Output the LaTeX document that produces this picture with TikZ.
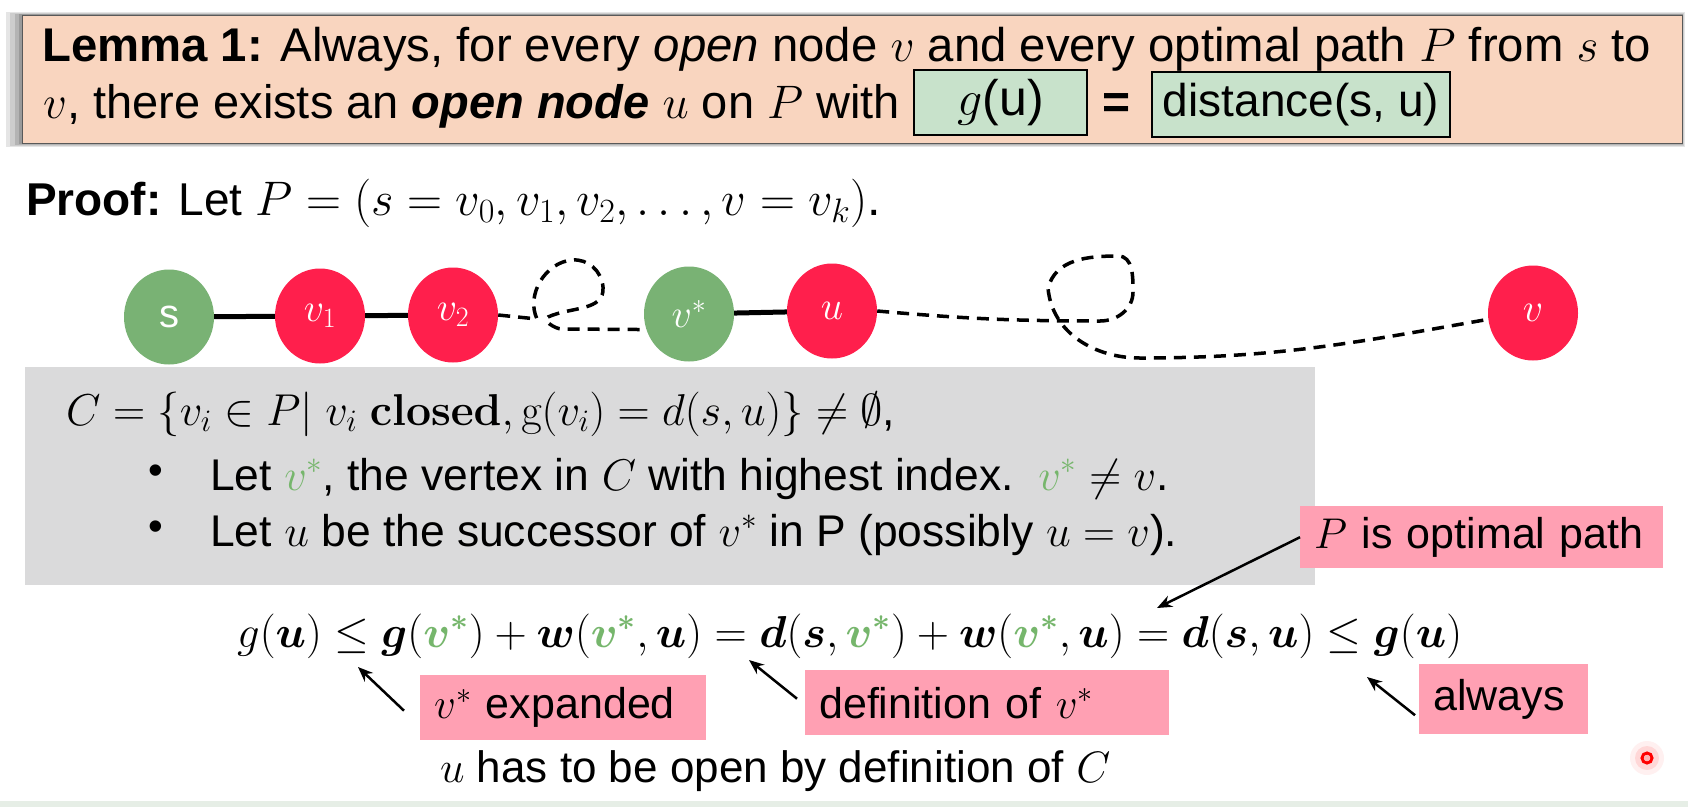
\RequirePackage{fix-cm}
\documentclass[tikz,border=0pt]{standalone}
\usepackage{amsmath}
\usepackage{bm}
\usepackage[no-math]{fontspec}
\setmainfont{Liberation Sans}
\usetikzlibrary{arrows.meta,shapes.geometric}

\definecolor{peach}{RGB}{249,213,191}
\definecolor{boxgreen}{RGB}{200,226,203}
\definecolor{nodegreen}{RGB}{121,178,116}
\definecolor{nodered}{RGB}{255,31,76}
\definecolor{textgreen}{RGB}{118,182,108}
\definecolor{panelgray}{RGB}{218,218,219}
\definecolor{notepink}{RGB}{255,160,179}
\definecolor{stripgreen}{RGB}{230,238,230}

\newcommand{\gvs}{\textcolor{textgreen}{v^*}}
\newcommand{\bgvs}{\textcolor{textgreen}{\bm{v}^{\bm{*}}}}
\newcommand{\fs}[1]{\fontsize{#1}{#1}\selectfont}

\tikzset{
  txt/.style={anchor=base west, inner sep=0pt},
  vertex/.style={ellipse, minimum width=90pt, minimum height=95pt, inner sep=0pt,
                 text=white, font=\fs{40}},
  greenv/.style={vertex, fill=nodegreen},
  redv/.style={vertex, fill=nodered},
  pathedge/.style={line width=5pt},
  walk/.style={line width=3.5pt, dash pattern=on 12pt off 8pt},
  valuebox/.style={draw=black, line width=2pt, fill=boxgreen, inner sep=0pt, font=\fs{46}},
  note/.style={fill=notepink, inner xsep=14pt, inner ysep=0pt, anchor=north west,
               align=left, font=\fs{43}},
  pointer/.style={line width=2.5pt, -{Stealth[length=15pt,width=12pt]}},
}

\begin{document}
\begin{tikzpicture}[x=1pt,y=-1pt]
\useasboundingbox (0,0) rectangle (1688,807);
\fill[white] (0,0) rectangle (1688,807);

% lemma banner with soft shadow
\fill[black,opacity=0.10] (6,12) rectangle (1685,147);
\fill[black,opacity=0.10] (10,13) rectangle (1684,146);
\fill[black,opacity=0.12] (15,14) rectangle (1683,145);
\fill[black,opacity=0.14] (19,14) rectangle (1683,144);
\node[draw=black!65, line width=1.2pt, fill=peach, anchor=north west, inner sep=0pt,
      minimum width=1660pt, minimum height=128pt] (banner) at (22,15) {};
\node[txt, font=\fs{47.3}] (lemma1) at (42,61)
  {\textbf{Lemma 1:} Always, for every \textit{open} node $v$ and every optimal path $P$ from $s$ to};
\node[txt, font=\fs{47}] (lemma2) at (43,118)
  {$v$, there exists an \textbf{\textit{open node}} $u$ on $P$ with};
\node[valuebox, minimum width=173pt, minimum height=65pt, font=\fs{50}] (gbox) at (1000.5,102.5) {$g$(u)};
\node[inner sep=0pt, font=\fs{48}] (eqsign) at (1116,106) {\textbf{=}};
\node[valuebox, minimum width=298pt, minimum height=65pt] (dbox) at (1301,104.5) {distance(s, u)};

% proof header
\node[txt, font=\fs{46}] (proof) at (26,215)
  {\textbf{Proof:} Let {\fs{48.5}$P = (s = v_0, v_1, v_2, \ldots, v = v_k)$.}};

% the path from s to v
\node[greenv] (s)  at (169,317) {s};
\node[redv]   (v1) at (320,316) {$v_1$};
\node[redv]   (v2) at (453,315) {$v_2$};
\node[greenv] (vs) at (689,314) {$v^*$};
\node[redv]   (u)  at (832,311) {$u$};
\node[redv]   (v)  at (1533,313) {$v$};

\draw[pathedge] (s) -- (v1);
\draw[pathedge] (v1) -- (v2);
\draw[pathedge] (vs) -- (u);

\draw[walk] (v2.east) -- (537,319) to[out=115,in=185] (572,260) to[out=5,in=95] (603,287)
  to[out=-85,in=25] (548,317) to[out=205,in=180] (562,329) -- (vs.200);
\draw[walk] (u.east) to[out=-5,in=180] (1100,321) to[out=0,in=-90] (1133,292)
  to[out=90,in=0] (1118,256) to[out=180,in=75] (1048,288)
  to[out=-85,in=180] (1140,358) to[out=0,in=190] (v.188);

% definition of C
\node[fill=panelgray, anchor=north west, inner sep=0pt,
      minimum width=1290pt, minimum height=218pt] (panel) at (25,367) {};
\node[txt, font=\fs{44.6}] (cset) at (66,425)
  {$C = \{v_i \in P|\; v_i\ \mathbf{closed}, \mathrm{g}(v_i) = d(s,u)\} \neq \emptyset$,};
\node[inner sep=0pt, font=\fs{42}] (dot1) at (156,475) {\textbullet};
\node[txt, font=\fs{44.4}] (item1) at (210,490)
  {Let $\gvs$, the vertex in $C$ with highest index.\ \ $\gvs \neq v$.};
\node[inner sep=0pt, font=\fs{42}] (dot2) at (156,531) {\textbullet};
\node[txt, font=\fs{44.4}] (item2) at (210,546)
  {Let $u$ be the successor of $v^*$ in P (possibly $u = v$).};

% chain of inequalities
\node[txt, font=\fs{44.7}] (chain) at (237,647)
  {$g(\bm{u}) \le \bm{g}(\bgvs) + \bm{w}(\bgvs,\bm{u}) = \bm{d}(\bm{s},\bgvs)
    + \bm{w}(\bgvs,\bm{u}) = \bm{d}(\bm{s},\bm{u}) \le \bm{g}(\bm{u})$};

\coordinate (leq1) at (358,667);
\coordinate (eq1) at (749,660);
\coordinate (eq2) at (1157,608);
\coordinate (leq2) at (1367,677);

% annotations
\node[note, text width=258pt, minimum height=65pt] (nexp) at (420,675) {$v^*$ expanded};
\node[note, text width=336pt, minimum height=65pt] (ndef) at (805,670) {definition of $v^*$};
\node[note, text width=141pt, minimum height=70pt] (nalw) at (1419,664) {always};
\node[note, text width=335pt, minimum height=62pt] (nopt) at (1300,506) {$P$ is optimal path};

\draw[pointer] ([xshift=-16pt,yshift=-3pt]nexp.west) -- (leq1);
\draw[pointer] ([xshift=-8pt,yshift=4pt]ndef.west) -- (eq1);
\draw[pointer] ([xshift=-4pt,yshift=-16pt]nalw.west) -- (leq2);
\draw[pointer] (nopt.west) -- (eq2);

\node[txt, font=\fs{44}] (concl) at (440,782) {$u$ has to be open by definition of $C$};

% pointer marker and lower strip
\fill[red,opacity=0.06] (1647,758) circle (17);
\fill[red,opacity=0.10] (1647,758) circle (12);
\draw[red, line width=3pt] (1647,758) circle (5);
\fill[red!30] (1647,758) circle (3);
\fill[stripgreen] (0,801) rectangle (1688,807);
\end{tikzpicture}
\end{document}
